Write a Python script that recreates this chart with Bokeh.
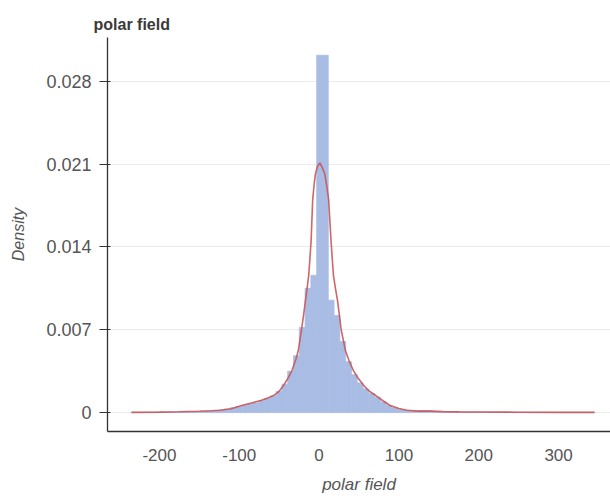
from bokeh.plotting import figure
from bokeh.models import FixedTicker, CustomJSTickFormatter, Range1d
from bokeh.embed import file_html
from bokeh.resources import INLINE

# Histogram: 80 bins from -235 to 345
bin_start = -235.0
bin_width = 7.25
hist_density = [
    0.00002, 0.00002, 0.00003, 0.00003, 0.00004, 0.00004, 0.00005, 0.00005, 0.00006, 0.00007,
    0.00008, 0.00010, 0.00012, 0.00015, 0.00018, 0.00022, 0.00030, 0.00040, 0.00050, 0.00060,
    0.00070, 0.00080, 0.00100, 0.00120, 0.00140, 0.00180, 0.00240, 0.00350, 0.00480, 0.00720,
    0.01050, 0.01160, 0.03020, 0.03020, 0.00950, 0.00820, 0.00600, 0.00430, 0.00320, 0.00250,
    0.00200, 0.00160, 0.00130, 0.00090, 0.00060, 0.00040, 0.00025, 0.00020, 0.00015, 0.00015,
    0.00018, 0.00015, 0.00010, 0.00008, 0.00007, 0.00006, 0.00005, 0.00005, 0.00004, 0.00004,
    0.00004, 0.00003, 0.00003, 0.00003, 0.00003, 0.00002, 0.00002, 0.00002, 0.00002, 0.00002,
    0.00002, 0.00002, 0.00002, 0.00002, 0.00002, 0.00002, 0.00002, 0.00002, 0.00002, 0.00002,
]

# KDE curve
kde_x = [-235, -200, -175, -150, -135, -124, -110, -98, -85, -73, -65, -57, -50, -44.6, -39,
         -34, -29, -26, -22, -19.5, -17, -15, -13, -11.5, -10, -8, -6, -4.5, -2, 1, 4, 7,
         9.5, 12, 13.5, 15, 16.5, 18, 20.5, 23, 25.5, 27.7, 33, 38, 43, 49, 56, 63, 71, 80,
         89, 100, 110, 125, 140, 155, 175, 200, 250, 300, 345]
kde_y = [0.00002, 0.00004, 0.00007, 0.00011, 0.00015, 0.00019, 0.00032, 0.00058, 0.00080, 0.00102,
         0.00122, 0.00144, 0.00180, 0.00228, 0.00290, 0.00355, 0.00450, 0.00524, 0.00700, 0.00820,
         0.00950, 0.01050, 0.01160, 0.01300, 0.01450, 0.01800, 0.01940, 0.02020, 0.02080, 0.02110,
         0.02070, 0.02020, 0.01920, 0.01800, 0.01620, 0.01450, 0.01300, 0.01160, 0.01050, 0.00950,
         0.00820, 0.00700, 0.00524, 0.00430, 0.00355, 0.00290, 0.00228, 0.00180, 0.00144, 0.00100,
         0.00060, 0.00035, 0.00020, 0.00012, 0.00012, 0.00008, 0.00006, 0.00005, 0.00003, 0.00002,
         0.00002]

y_ticks = [0, 0.007, 0.014, 0.021, 0.028]
x_ticks = [-200, -100, 0, 100, 200, 300]

lefts = [bin_start + i * bin_width for i in range(len(hist_density))]
rights = [l + bin_width for l in lefts]

FONT = "Liberation Sans"
HIST = "#a9bde4"

p = figure(width=610, height=499, output_backend="svg", toolbar_location=None,
           x_range=Range1d(-265, 365), y_range=Range1d(-0.0016, 0.0317),
           min_border_left=107, min_border_right=0, min_border_top=37, min_border_bottom=68,
           title="polar field")
p.outline_line_color = None
p.background_fill_color = "white"
p.border_fill_color = "white"

p.title.text_font = FONT
p.title.text_font_size = "16px"
p.title.text_font_style = "bold"
p.title.text_color = "#3a3a3a"
p.title.offset = -14
p.title.standoff = 10

p.quad(left=lefts, right=rights, bottom=0, top=hist_density,
       fill_color=HIST, line_color=HIST, line_width=0.8)
p.line(kde_x, kde_y, line_color="#c8575a", line_width=1.6, line_alpha=0.9)

p.xgrid.visible = False
p.ygrid.ticker = FixedTicker(ticks=y_ticks)
p.ygrid.grid_line_color = "#ebebeb"
p.ygrid.grid_line_width = 1

yax = p.yaxis[0]
yax.ticker = FixedTicker(ticks=y_ticks)
yax.formatter = CustomJSTickFormatter(code="return tick == 0 ? '0' : tick.toFixed(3);")
yax.axis_line_color = "#333333"
yax.axis_line_width = 1.3
yax.major_tick_line_color = "#333333"
yax.major_tick_out = 8
yax.major_tick_in = 3
yax.minor_tick_line_color = None
yax.major_label_text_font = FONT
yax.major_label_text_font_size = "18px"
yax.major_label_text_color = "#555555"
yax.major_label_standoff = 8
yax.axis_label = "Density"
yax.axis_label_text_font = FONT
yax.axis_label_text_font_size = "16px"
yax.axis_label_text_font_style = "italic"
yax.axis_label_text_color = "#555555"
yax.axis_label_standoff = 16

xax = p.xaxis[0]
xax.ticker = FixedTicker(ticks=x_ticks)
xax.formatter = CustomJSTickFormatter(code="return String(Math.round(tick));")
xax.axis_line_color = "#333333"
xax.axis_line_width = 1.3
xax.major_tick_line_color = None
xax.minor_tick_line_color = None
xax.major_label_text_font = FONT
xax.major_label_text_font_size = "17px"
xax.major_label_text_color = "#555555"
xax.major_label_standoff = 11
xax.axis_label = "polar field"
xax.axis_label_text_font = FONT
xax.axis_label_text_font_size = "17px"
xax.axis_label_text_font_style = "italic"
xax.axis_label_text_color = "#555555"
xax.axis_label_standoff = 11

open("out.html", "w").write(file_html(p, INLINE))
